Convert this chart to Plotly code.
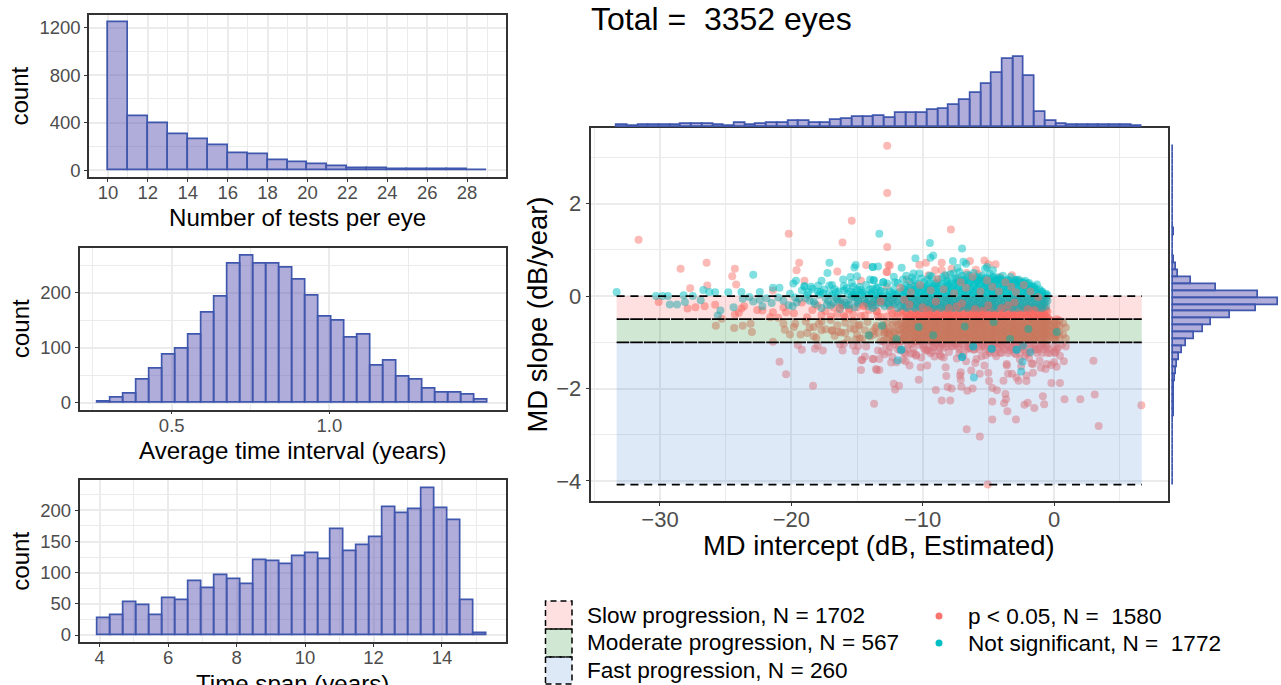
import plotly.graph_objects as go

W, H = 1281, 685
FONT = "Liberation Sans"
BAR_FILL = "rgba(100,92,182,0.5)"
BAR_LINE = "#3F57AD"
RED = "#F8766D"
TEAL = "#00BFC4"
SLOW = "rgba(255,0,0,0.12)"
MODERATE = "rgba(0,130,20,0.19)"
FAST = "rgba(55,120,215,0.165)"

tests_edges = [10, 11, 12, 13, 14, 15, 16, 17, 18, 19, 20, 21, 22, 23, 24, 25, 26, 27, 28, 29]
tests_counts = [1248, 453, 397, 301, 256, 208, 144, 130, 85, 62, 48, 31, 17, 11, 5, 3, 2, 2, 1]
interval_start, interval_step = 0.265, 0.0412
interval_counts = [2, 9, 16, 41, 62, 88, 99, 123, 164, 193, 253, 268, 252, 252, 246, 224, 194, 156, 150, 119,
                   124, 68, 76, 48, 42, 25, 19, 18, 15, 5]
span_start, span_step = 3.94, 0.3787
span_counts = [27, 31, 52, 48, 32, 59, 55, 86, 75, 95, 90, 82, 120, 118, 114, 127, 131, 121, 170, 134,
               144, 157, 205, 196, 202, 236, 204, 184, 55, 2]
marg_x_start, marg_x_step = -33.3, 0.816
marg_x_counts = [10, 6, 8, 8, 8, 8, 15, 14, 14, 12, 6, 23, 10, 15, 19, 19, 33, 35, 23, 21,
                 39, 46, 54, 54, 64, 52, 77, 77, 77, 96, 102, 127, 154, 197, 247, 313, 390, 401, 293, 87,
                 31, 15, 8, 8, 10, 10, 8, 8, 6]
marg_y_top, marg_y_step = 3.27, 0.1504
marg_y_counts = [2, 2, 2, 2, 2, 2, 2, 2, 2, 2, 3, 3, 6, 3, 3, 4, 10, 21, 33, 117, 274, 533, 658, 522, 357, 240,
                 190, 132, 84, 61, 42, 29, 19, 15, 8, 6, 6, 6, 6, 2, 2, 2, 2, 2, 2, 2, 2, 2, 2]

band_lows = [-0.5, -1.0, -4.08]
band_highs = [0.0, -0.5, -1.0]
band_left, band_right = -33.3, 6.68

sig_x = [-31.63, -28.43, -26.45, -24.3, -24.5, -24.2, -27.7, -26.4, -20.2, -19.4, -19.6, -19.0, -15.4, -16.1, -16.5,
         -14.3, -14.7, -12.7, -12.7, -12.7, -12.6, -12.7, -21.4, -30.1, -27.9, -27.3, -26.6, -25.8, -24.3, -23.8,
         -23.6, -24.0, -22.2, -21.4, -20.6, -25.75, -25.3, -24.35, -23.7, -23, -23.1, -21.4, -20.6, -20.5, -20.1,
         -19.8, -18.8, -18.3, -17.7, -16.9, -16.4, -15.9, -15.2, -14.8, -14.1, -13.5, -12.9,
         -19.2, -18, -17.6, -16.3, -16.1, -15.3, -20.9, -14.65, -14.4, -13.75, -13.3, -14.7, -13.55, -14.3, -13.4,
         -12.6, -20.4, -18.35, -13.7, -14.6, -13.8, -13.5, -13.3, -12.2, -11.8, -12.1, -12.3, -12, -11.3, -10.3,
         -10.15, -9.65, -9, -8.55, -7.9, -8.1, -7.8, -8.25, -8.2, -7.1, -7.1, -7.05, -6.6, -6.2, -6.3, -5.65, -5,
         -4.95, -4.7, -4.35, -4.7, -3.7, -3.65, -3.8, -3.55, -4.7, -2.9, -6.65, -5.65, -5.05, -2.25, -2, -1.5, -0.75,
         -0.85, 0.8, 2, 3.1, 3.4, 6.65, 3, -0.2, 0.45, -2.7, -2.1, -3.85, -3.5, -3.6, -1.6, -0.65, 0.2, 0.75, -1.6,
         -5.3, -6, -7.15, -2.85, -2.1, -3.2, -1.1, -0.55, 0.45, 0.05, 0.6,
         -7.85, -12.5, -12.75, -10.25, -9.75, -9.05, -8.55, -8.55, -6.4, -5.3, -4.45, -5, -5.95, -7.8, -3.2, -4.1,
         -6.65, -5.75, -3.35, -2.1, -5.05, -8.9, -9.55, -12.75, -11.2, -10.9, -8.2, -7.3, -6.9, -3.9, -2.7, -2.4,
         -11.8, -11.2, -10.7, -10.2, -9.6, -9.1, -8.7, -8, -7.5, -6.9, -6.4, -5.9, -5.4, -4.9, -4.4, -3.9, -3.4,
         -2.9, -2.4, -1.9, -1.4, -0.9, -0.3, 0.3, -11.5, -10.5, -9.9, -9.3, -8.4, -7.7, -7.2, -6.7, -6.1, -5.5,
         -4.6, -4.1, -3.3, -2.6, -2.2, -1.2, -0.6, 0, -10.9, -9.5, -8.8, -7.4, -6.5, -5.2, -4.3, -3.6, -2.5, -1.7,
         -1, -0.2, -12.4, -11, -9, -7, -5.6, -3.1, -1.5,
         -19.7, -19.3, -18.9, -18.6, -18.1, -17.9, -17.4, -17, -16.7, -16.5, -16.2, -15.9, -15.7, -15.5, -15.3, -15,
         -14.8, -14.6, -14.4, -14.2, -14, -13.8, -13.6, -13.4, -13.2, -13, -16.9, -17.7, -18.3, -15.1, -14.9, -13.9,
         -13.5, -14.5, -16, -15.6,
         -19.8, -19.2, -18.8, -18.4, -18, -17.7, -17.4, -17, -16.8, -16.5, -16.2, -15.9, -15.6, -15.3, -15, -14.7,
         -14.4, -14.1, -13.8, -13.5, -13.2, -20.4, -21, -21.6, -22.6, -19.5, -18.2, -16, -15.1, -14.9,
         -12.9, -12.5, -12.2, -11.7, -11.4, -11.1, -10.7, -10.5, -10, -9.7, -9.4, -9.2, -8.9, -8.6, -8.4, -13.1, -12.8,
         -11.9, -11.3, -10.8, -10.1, -9.8, -9.1, -8.7, -8.5, -10.6, -11.6, -12.1, -9.3, -10.4]
sig_y = [1.22, 0.59, 0.72, 0.59, 0.43, 0.25, 0.17, 0.23, 1.35, 0.72, 0.56, 0.33, 1.63, 1.16, 0.53,
         0.67, 0.33, 3.25, 2.23, 1.06, 0.67, 0.52, 0.12, -0.13, -0.27, -0.24, -0.22, -0.19, -0.4, -0.27,
         -0.22, -0.36, -0.31, -0.35, -0.25, -0.64, -0.49, -0.69, -0.64, -0.78, -0.6, -0.99, -0.6, -0.73, -0.83,
         -0.67, -0.8, -0.67, -0.74, -0.74, -0.78, -0.8, -0.71, -0.92, -0.85, -0.64, -0.78,
         -1.16, -1.07, -1.18, -1.05, -1.18, -1.07, -1.42, -1.39, -1.31, -1.36, -1.36, -1.6, -1.58, -1.09, -1.18,
         -1.21, -1.69, -1.94, -2.33, -1.38, -1.36, -1.6, -1.6, -1.9, -1.94, -2.02, -1.32, -1.43, -1.41, -1.81,
         -1.54, -1.5, -2.03, -2.26, -2.26, -1.97, -2, -1.54, -1.73, -1.65, -1.81, -1.96, -2.05, -2, -1.61, -1.68, -1.66,
         -1.84, -1.99, -2.04, -2.28, -2.12, -2.23, -2.32, -2.49, -2.67, -2.67, -2.88, -3.04, -4.08, -2.35, -2.31, -2.42,
         -2.34, -2.17, -2.23, -2.23, -2.13, -2.81, -2.36, -1.4, -1.88, -1.88, -1.83, -1.84, -1.83, -1.68, -1.5, -1.66,
         -1.58, -1.53, -1.41, -1.47, -1.5, -1.45, -1.72, -1.76, -1.72, -1.68, -1.4, -1.47, -1.29, -1.21, -1.05,
         1.44, 0.66, 0.52, 0.68, 0.72, 0.56, 0.72, 0.56, 0.76, 0.77, 0.69, 0.69, 0.57, 0.59, 0.45, 0.41,
         0.5, 0.48, 0.2, 0.13, 0.23, 0.3, 0.45, 0.2, 0.36, 0.24, 0.44, 0.38, 0.31, 0.29, 0.33, 0.24,
         -1.09, -1.15, -1.24, -1.06, -1.18, -1.31, -1.12, -1.21, -1.04, -1.27, -1.13, -1.36, -1.08, -1.2, -1.3,
         -1.07, -1.18, -1.26, -1.1, -1.34, -1.16, -1.05, -1.23, -1.12, -1.38, -1.27, -1.13, -1.2, -1.33, -1.08, -1.24,
         -1.41, -1.16, -1.3, -1.05, -1.22, -1.11, -1.37, -1.29, -1.15, -1.07, -1.43, -1.25, -1.09, -1.19, -1.35, -1.12,
         -1.28, -1.04, -1.47, -1.52, -1.46, -1.55, -1.49, -1.44, -1.5,
         -0.62, -0.84, -0.57, -0.72, -0.93, -0.6, -0.83, -0.55, -0.68, -0.9, -0.6, -0.72, -0.52, -0.86, -0.63, -0.79,
         -0.58, -0.95, -0.7, -0.54, -0.82, -0.62, -0.92, -0.74, -0.56, -0.87, -0.76, -0.69, -0.8, -0.97, -0.66, -0.75,
         -0.55, -0.87, -0.94, -0.65,
         -0.16, -0.33, -0.2, -0.42, -0.27, -0.37, -0.14, -0.46, -0.3, -0.21, -0.41, -0.33, -0.44, -0.25, -0.38, -0.16,
         -0.46, -0.3, -0.4, -0.24, -0.43, -0.42, -0.3, -0.2, -0.33, -0.45, -0.35, -0.47, -0.46, -0.3,
         -1.06, -1.14, -1.03, -1.19, -1.08, -1.26, -1.11, -1.04, -1.17, -1.22, -1.07, -1.13, -1.29, -1.05, -1.16, -1.24,
         -1.09, -1.02, -1.3, -1.12, -1.2, -1.06, -1.15, -1.25, -1.03, -1.33, -1.18, -1.1, -1.27, -1.05]
# significant eyes that lie on top of the teal cloud
sig_top_x = [-11.7, -10.9, -10.2, -9.4, -8.9, -8.4, -7.6, -7.1, -6.7, -6.2, -5.6, -5.1, -4.7, -4.2, -3.7, -3.25, -2.9,
             -2.3, -1.8, -1.2, -11, -10, -9, -8, -7, -6, -5, -4, -3, -2, -14.5, -13.2, -12.4, -11.4, -9.6, -7.4, -5.4,
             -3.5, -1.5, -16.3]
sig_top_y = [0.18, 0.08, 0.24, 0.12, 0.38, 0.15, 0.06, 0.3, 0.18, 0.42, 0.1, 0.34, 0.2, 0.1, 0.3, 0.2, 0.08,
             0.24, 0.1, -0.02, -0.18, -0.24, -0.12, -0.26, -0.16, -0.28, -0.2, -0.26, -0.14, -0.28, -0.22, -0.12,
             -0.3, -0.08, -0.3, -0.22, -0.32, -0.2, -0.3, -0.26]

core_a = [-13.0, -12.3, -11.9, -11.2, -10.6, -10.1, -9.7, -9.2, -8.6, -8.1, -7.7, -7.2, -6.6, -6.1, -5.7, -5.2,
          -4.7, -4.3, -3.8, -3.2, -2.8, -2.3, -1.9, -1.3, -0.9, -0.5, 0.1, 0.7]
core_b = [-13.4, -12.7, -12.1, -11.5, -11.0, -10.4, -9.9, -9.4, -8.9, -8.3, -7.9, -7.4, -6.9, -6.3, -5.9, -5.4,
          -4.9, -4.5, -4.0, -3.5, -3.0, -2.6, -2.1, -1.6, -1.1, -0.7, -0.2, 0.4]
core_c = [-13.7, -12.9, -12.5, -11.7, -11.3, -10.8, -10.3, -9.5, -9.0, -8.5, -8.0, -7.5, -7.0, -6.5, -6.0, -5.5,
          -5.1, -4.6, -4.1, -3.6, -3.1, -2.5, -2.0, -1.5, -1.0, -0.6, 0.0, 0.9]
core_d = [-12.6, -12.2, -11.4, -10.9, -10.5, -10.0, -9.6, -9.1, -8.7, -8.2, -7.8, -7.3, -6.8, -6.4, -5.8, -5.3,
          -4.8, -4.4, -3.9, -3.4, -2.9, -2.4, -1.8, -1.4, -0.8, -0.4, 0.2]
# (slope level, x readings for that level, left end, right end of the cloud there)
sig_rows = [(-0.98, core_a, -13, 0.2), (-0.95, core_c, -12.5, 0.9), (-0.92, core_b, -13, 0.4), (-0.89, core_d, -12.2, 0.2),
            (-0.86, core_a, -10.6, 0.7), (-0.83, core_c, -13.7, 0.0), (-0.80, core_b, -12.7, 0.4), (-0.77, core_d, -12.6, 0.2),
            (-0.74, core_a, -11.9, 0.1), (-0.71, core_c, -12.9, 0.9), (-0.68, core_b, -11.5, 0.4), (-0.65, core_d, -11.4, 0.2),
            (-0.62, core_a, -13, 0.7), (-0.59, core_c, -11.7, 0.0), (-0.56, core_b, -12.7, 0.4), (-0.53, core_d, -10.9, 0.2),
            (-0.50, core_a, -11.2, -0.5), (-0.47, core_c, -11.3, -0.6), (-0.44, core_b, -13.4, -0.7), (-0.41, core_d, -10.9, -0.8),
            (-0.38, core_a, -12.3, -0.5), (-0.34, core_c, -11.7, -0.6), (-0.30, core_b, -11.5, -0.7), (-0.26, core_d, -9.6, -0.8),
            (-1.03, core_c, -9.0, 0.9), (-1.09, core_d, -8.2, 0.2), (-1.15, core_a, -7.2, 0.1), (-1.23, core_b, -4.9, 0.4)]

teal_x = [-33.3, -22.9, -17.1, -17.25, -15.1, -15.2, -13.8, -13.4, -13.3, -26.7, -26.25, -25.8, -24.8, -23.8, -22.4,
          -21.4, -20.9, -19.85, -19.65, -19, -17.95, -17.7, -17.1, -16.05, -15.5, -15, -15.3, -14, -13.7, -13, -12.7,
          -30.3, -29.8, -29.4, -29.25, -28.7, -28.2, -28.1, -27.5, -26.9, -25.4, -25.6, -24.4, -23.7, -22.9, -22.4,
          -21.9, -21.5, -21, -20.6, -20.2, -23.2, -22.2,
          -11.6, -11.9, -7, -6.1, -2.5, -2.4, -2.85, -4.75, -6.15, -2.35, -1.8,
          -13.1, -14.1, -10.3, -9.2, -6.8, -4.6, -1.95, 0.2, -3.35, -12, -6.15, -4.75, -2.85, -11.65, -7,
          -9.45, -7, -10.55, -9.2, -9.4, -7.7, -6.9, -6.7, -5.1, -5.25, -4.65, -7.35, -11.6, -13.8, -11.25, -10.7,
          -10.25, -9.45, -8.3, -7.65, -7, -6.4, -5.9, -4.1, -2.85, -1.9, -1.3, -0.6, -2.3, -3.5, -12.1, -13, -13.75, -10.6,
          -12.2, -11.9, -11.5, -11.3, -11, -10.8, -10.4, -10.1, -9.9, -9.6, -9.3, -9.1, -8.8, -8.5, -8.1, -7.9, -7.5, -7.2,
          -6.9, -6.6, -6.3, -6.1, -5.8, -5.5, -5.2, -4.9, -4.6, -4.3, -3.9, -3.6, -3.3, -3, -2.7, -2.5, -2.2, -1.7, -1.5,
          -1.1, -0.9, -0.5,
          -20.1, -19.6, -19.2, -18.9, -18.5, -18.2, -17.9, -17.5, -17.2, -16.9, -16.6, -16.4, -16.1, -15.8, -15.6, -15.4,
          -15.1, -14.9, -14.7, -14.5, -14.3, -14.1, -13.9, -13.7, -13.5, -13.3, -19.9, -19, -18, -17.7, -16.7, -16.3,
          -15.7, -15.2, -14.8, -14.2, -13.8, -13.2, -17.1, -18.7, -15.9, -15, -14.4, -13.6, -16.8, -15.5,
          -19.4, -18.8, -18.3, -17.8, -17.3, -16.9, -16.5, -16, -15.6, -15.3, -14.9, -14.6, -14.2, -13.9, -13.5, -13.1,
          -18.6, -17.6, -16.6, -16.2, -15.8, -15.4, -15, -14.7, -14.3, -14, -13.6, -13.3, -17, -16.4, -15.1, -14.5, -13.8,
          -17.4, -16, -15.2, -14.1, -13.4, -18.4, -19.7]
teal_y = [0.09, 0.46, 0.72, 0.5, 0.67, 0.62, 0.63, 0.64, 1.35, 0.13, 0.09, 0.08, 0.08, 0.09, 0.09,
          0.18, 0.18, 0.27, 0.33, 0.2, 0.23, 0.33, 0.23, 0.36, 0.41, 0.43, 0.2, 0.36, 0.34, 0.3, 0.27,
          0, 0, 0, -0.18, -0.18, 0.02, -0.13, 0, -0.09, -0.31, -0.42, -0.24, -0.06, -0.12, -0.08,
          -0.05, -0.15, -0.03, -0.1, -0.2, -0.02, -0.22,
          -1.16, -1.39, -1.32, -1.76, -1.63, -1.42, -1.16, -1.14, -1.09, -1.07, -1.21,
          -0.64, -0.85, -0.67, -0.85, -0.66, -0.56, -0.71, -0.78, -0.93, -0.93, -1.09, -1.14, -1.16, -1.16, -1.32,
          1.15, 1.03, 0.82, 0.88, 0.83, 0.76, 0.74, 0.7, 0.63, 0.59, 0.56, 0.61, 0.61, 0.63, 0.44, 0.49,
          0.49, 0.44, 0.45, 0.49, 0.44, 0.44, 0.41, 0.38, 0.35, 0.28, 0.25, 0.05, 0.28, 0.27, 0.3, 0.3, 0.34, 0.34,
          0.42, 0.28, 0.36, 0.22, 0.31, 0.4, 0.26, 0.38, 0.3, 0.36, 0.42, 0.27, 0.36, 0.4, 0.33, 0.47, 0.38, 0.52,
          0.36, 0.46, 0.39, 0.5, 0.36, 0.44, 0.37, 0.48, 0.41, 0.36, 0.44, 0.34, 0.41, 0.3, 0.36, 0.28, 0.33, 0.22, 0.2,
          0.15, 0.1, 0.02,
          0.05, -0.14, 0.12, -0.05, 0.2, -0.17, 0.03, 0.14, -0.1, 0.24, -0.03, 0.1, -0.2, 0.17, -0.08, 0.28,
          0.03, -0.16, 0.13, -0.05, 0.24, -0.22, 0.08, -0.12, 0.18, -0.03, -0.22, 0.22, 0.1, -0.26, 0.15, -0.28,
          0.05, -0.24, 0.2, 0.02, -0.26, 0.11, 0.06, 0.08, -0.14, 0.14, -0.1, 0.01, -0.15, 0.1,
          -0.06, 0.03, -0.12, 0.09, -0.19, 0.02, -0.07, 0.12, -0.19, 0.03, -0.09, 0.07, -0.15, 0.04, -0.07, -0.16,
          -0.1, 0.06, 0.08, -0.06, -0.2, -0.02, -0.12, 0.02, -0.16, 0.14, -0.2, 0.06, -0.2, -0.12, -0.02, 0.08, 0.16,
          -0.04, 0.22, 0.07, -0.07, 0.19, 0.16, -0.03]
teal_rows = [(-0.26, core_a, -11.9, -0.9), (-0.22, core_c, -12.9, -0.6), (-0.18, core_d, -12.6, -0.8),
             (-0.14, core_b, -13.4, -0.7), (-0.10, core_a, -13, -0.5), (-0.06, core_c, -13.7, -0.6), (-0.02, core_d, -12.6, -0.8),
             (0.02, core_b, -13.4, -0.7), (0.06, core_a, -12.3, -0.9), (0.10, core_c, -12.9, -1.0), (0.14, core_d, -12.2, -1.4),
             (0.18, core_b, -11.5, -1.6), (0.22, core_a, -10.6, -1.9), (0.27, core_c, -9.5, -2.0),
             (0.31, core_d, -8.2, -2.4), (0.35, core_b, -7.4, -3.0), (0.40, core_a, -5.7, -4.3)]


def expand(xs, ys, rows):
    out_x, out_y = list(xs), list(ys)
    for level, readings, lo, hi in rows:
        for value in readings:
            if lo <= value <= hi:
                out_x.append(value)
                out_y.append(level)
    return out_x, out_y


def centers(start, step, n):
    return [start + step * (i + 0.5) for i in range(n)]


def xdom(a, b):
    return [a / W, b / W]


def ydom(top, bottom):
    return [1 - bottom / H, 1 - top / H]


def axis(dom, rng, title="", tick=18.5, title_size=24.1, standoff=4, **kw):
    spec = dict(domain=dom, range=rng, automargin=False, showline=True, mirror=True, linecolor="#333333", linewidth=1.5,
                showgrid=True, gridcolor="#EBEBEB", gridwidth=1.6, zeroline=False, ticks="outside", ticklen=3,
                tickwidth=1, tickcolor="#333333", tickfont=dict(family=FONT, size=tick, color="#4D4D4D"),
                anchor=kw.pop("anchor"), **kw)
    if title:
        spec["title"] = dict(text=title, font=dict(family=FONT, size=title_size, color="black"), standoff=standoff)
    return spec


def minor(tick0, dtick):
    return dict(tick0=tick0, dtick=dtick, showgrid=True, gridcolor="#EBEBEB", gridwidth=0.8, ticks="")


def hist(x, y, xa, ya, orientation="v"):
    return go.Bar(x=x, y=y, xaxis=xa, yaxis=ya, orientation=orientation, showlegend=False,
                  marker=dict(color=BAR_FILL, line=dict(color=BAR_LINE, width=1.7)))


def dots(x, y, colour):
    return go.Scatter(x=x, y=y, mode="markers", xaxis="x4", yaxis="y4", showlegend=False,
                      marker=dict(color=colour, size=8, opacity=0.5, line=dict(width=0)))


fig = go.Figure()
fig.add_trace(hist([e + 0.5 for e in tests_edges[:-1]], tests_counts, "x", "y"))
fig.add_trace(hist(centers(interval_start, interval_step, len(interval_counts)), interval_counts, "x2", "y2"))
fig.add_trace(hist(centers(span_start, span_step, len(span_counts)), span_counts, "x3", "y3"))

sx, sy = expand(sig_x, sig_y, sig_rows)
tx, ty = expand(teal_x, teal_y, teal_rows)
fig.add_trace(dots(sx, sy, RED))
fig.add_trace(dots(tx, ty, TEAL))
fig.add_trace(dots(sig_top_x, sig_top_y, RED))

fig.add_trace(hist(centers(marg_x_start, marg_x_step, len(marg_x_counts)), marg_x_counts, "x5", "y5"))
fig.add_trace(hist(marg_y_counts, [marg_y_top - marg_y_step * (i + 0.5) for i in range(len(marg_y_counts))],
                   "x6", "y6", orientation="h"))

main_x = [-35.29, 8.64]
main_y = [-4.43, 3.63]
shapes = []
for lo, hi, col in zip(band_lows, band_highs, [SLOW, MODERATE, FAST]):
    shapes.append(dict(type="rect", xref="x4", yref="y4", x0=band_left, x1=band_right, y0=lo, y1=hi,
                       fillcolor=col, line=dict(width=0), layer="above"))
for lvl, dash in [(0.0, "8px,5.8px"), (-0.5, "12.6px,1px"), (-1.0, "12.6px,1px"), (-4.08, "8px,5.8px")]:
    shapes.append(dict(type="line", xref="x4", yref="y4", x0=band_left, x1=band_right, y0=lvl, y1=lvl,
                       line=dict(color="black", width=1.7, dash=dash), layer="above"))

key_rows = [(601, 629, SLOW), (629, 657, MODERATE), (657, 684, FAST)]
for top, bottom, col in key_rows:
    shapes.append(dict(type="rect", xref="paper", yref="paper", x0=545.5 / W, x1=572 / W,
                       y0=1 - bottom / H, y1=1 - top / H, fillcolor=col,
                       line=dict(color="black", width=1.5, dash="6px,4px")))
for cy, col in [(616, RED), (643, TEAL)]:
    shapes.append(dict(type="circle", xref="paper", yref="paper", x0=935.5 / W, x1=942.5 / W,
                       y0=1 - (cy + 3.5) / H, y1=1 - (cy - 3.5) / H, fillcolor=col, line=dict(width=0)))


def note(text, px, py, size, anchor="left"):
    return dict(text=text, xref="paper", yref="paper", x=px / W, y=1 - py / H, xanchor=anchor, yanchor="middle",
                showarrow=False, font=dict(family=FONT, size=size, color="black"))


annotations = [note("Total =  3352 eyes", 589, 19, 32),
               note("Slow progression, N = 1702", 584.5, 615, 22.6),
               note("Moderate progression, N = 567", 584.5, 642, 22.6),
               note("Fast progression, N = 260", 584.5, 670, 22.6),
               note("p &lt; 0.05, N =  1580", 965.5, 616, 22.6),
               note("Not significant, N =  1772", 965.5, 643, 22.6),
               note("Number of tests per eye", 297.5, 217, 24.1, "center"),
               note("Average time interval (years)", 292.75, 450, 24.1, "center"),
               note("Time span (years)", 292.75, 683, 24.1, "center"),
               note("MD intercept (dB, Estimated)", 879, 545, 27.4, "center")]

X_TICK_SHIFT = -5

fig.update_layout(
    width=W, height=H, autosize=False, margin=dict(l=0, r=0, t=0, b=0), paper_bgcolor="white", plot_bgcolor="white",
    bargap=0, showlegend=False, shapes=shapes, annotations=annotations, font=dict(family=FONT),
    xaxis=axis(xdom(89, 506), [9.05, 29.95], anchor="y", tickmode="array", ticklabelstandoff=X_TICK_SHIFT,
               tickvals=list(range(10, 29, 2)), minor=minor(11, 2)),
    yaxis=axis(ydom(15.3, 177), [-59, 1307], "count", anchor="x", tickmode="array", tickvals=[0, 400, 800, 1200],
               minor=minor(200, 400)),
    xaxis2=axis(xdom(79.5, 506), [0.2076, 1.56], anchor="y2", tickmode="array", ticklabelstandoff=X_TICK_SHIFT,
                tickvals=[0.5, 1.0], ticktext=["0.5", "1.0"], minor=minor(0.25, 0.5)),
    yaxis2=axis(ydom(247.7, 409.7), [-12.7, 281.8], "count", anchor="x2", tickmode="array", tickvals=[0, 100, 200],
                minor=minor(50, 100)),
    xaxis3=axis(xdom(79.5, 506), [3.41, 15.87], anchor="y3", tickmode="array", ticklabelstandoff=X_TICK_SHIFT,
                tickvals=[4, 6, 8, 10, 12, 14], minor=minor(5, 2)),
    yaxis3=axis(ydom(480.3, 642.3), [-11.7, 248.2], "count", anchor="x3", tickmode="array",
                tickvals=[0, 50, 100, 150, 200], minor=minor(25, 50)),
    xaxis4=axis(xdom(590.5, 1167.5), main_x, tick=22, anchor="y4", ticklabelstandoff=X_TICK_SHIFT,
                tickmode="array", tickvals=[-30, -20, -10, 0], minor=minor(-35, 10)),
    yaxis4=axis(ydom(128.3, 500.8), main_y, "MD slope (dB/year)", tick=22, title_size=27.4, standoff=1, anchor="x4",
                tickmode="array", tickvals=[-4, -2, 0, 2], minor=minor(-3, 2)),
    xaxis5=dict(domain=xdom(590.5, 1167.5), range=main_x, visible=False, anchor="y5", automargin=False),
    yaxis5=dict(domain=ydom(50, 128), range=[-7.5, 443], visible=False, anchor="x5", automargin=False),
    xaxis6=dict(domain=xdom(1168, 1281), range=[-29.5, 678.6], visible=False, anchor="y6", automargin=False),
    yaxis6=dict(domain=ydom(128.3, 500.8), range=main_y, visible=False, anchor="x6", automargin=False),
)

fig.write_html("out.html", config={"displayModeBar": False},
               post_script="document.body.style.margin='0';document.body.style.overflow='hidden';")
